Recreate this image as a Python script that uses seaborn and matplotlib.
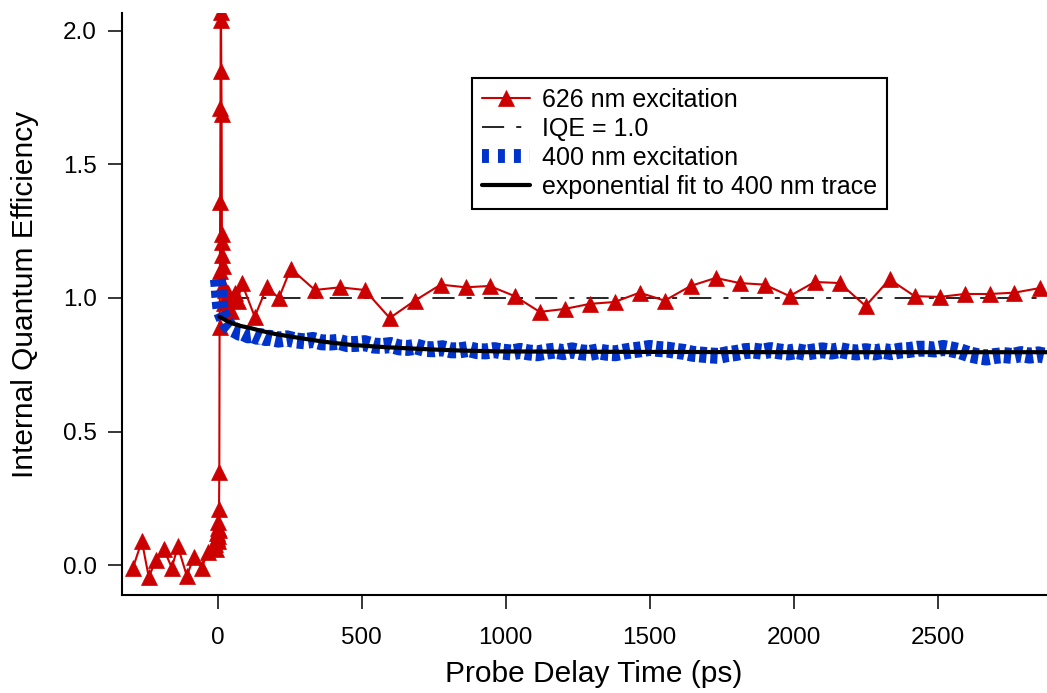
import matplotlib
matplotlib.use("Agg")
import matplotlib.pyplot as plt
from matplotlib.lines import Line2D
import seaborn as sns

# ---------------- data ----------------
red_t = [-295, -264, -240, -215, -188, -160, -139, -108, -83, -56, -35, -10,
         -5, -3, -2, -1, 0, 1, 2, 3, 4, 5, 6, 7, 8, 9, 10, 11, 12, 13, 14, 15,
         16, 17, 18, 20, 24, 30, 35, 45, 52, 59, 70, 83, 128, 170, 212, 253,
         337, 424, 510, 597, 684, 774, 861, 944, 1031, 1118, 1205, 1292, 1378,
         1465, 1552, 1642, 1729, 1812, 1899, 1986, 2073, 2160, 2250, 2333,
         2420, 2507, 2594, 2681, 2767, 2854]
red_iqe = [-0.01, 0.09, -0.045, 0.02, 0.06, -0.01, 0.07, -0.04, 0.03, -0.01, 0.05, 0.08,
           0.06, 0.10, 0.12, 0.09, 0.14, 0.11, 0.16, 0.13, 0.21, 0.35, 0.89, 1.10, 1.36, 1.71, 2.07, 2.04, 1.85, 1.69, 1.24, 1.21,
           1.16, 1.12, 1.05, 0.98, 1.03, 0.96, 1.02, 0.95, 1.00, 1.02, 0.99, 1.056, 0.93, 1.04, 1.00, 1.11,
           1.03, 1.04, 1.03, 0.925, 0.99, 1.05, 1.04, 1.045, 1.007, 0.948, 0.959, 0.978, 0.985,
           1.02, 0.99, 1.045, 1.075, 1.056, 1.05, 1.007, 1.06, 1.056, 0.97, 1.07,
           1.007, 1.004, 1.015, 1.015, 1.02, 1.037]

blue_t = [0, 2, 4, 6, 8, 10, 14, 18, 24, 30, 40, 50, 60, 75, 90, 105, 120, 135, 150, 165,
          180, 210, 240, 270, 300, 330, 360, 390, 420, 450, 480, 510, 540, 570, 600, 630,
          660, 690, 720, 750, 780, 810, 840, 870, 900, 930, 960, 990, 1020, 1050, 1080,
          1110, 1140, 1170, 1200, 1230, 1260, 1290, 1320, 1350, 1380, 1410, 1440, 1470,
          1500, 1530, 1560, 1590, 1620, 1650, 1680, 1710, 1740, 1770, 1800, 1830, 1860,
          1890, 1920, 1950, 1980, 2010, 2040, 2070, 2100, 2130, 2160, 2190, 2220, 2250,
          2280, 2310, 2340, 2370, 2400, 2430, 2460, 2490, 2520, 2550, 2580, 2610, 2640,
          2670, 2700, 2730, 2760, 2790, 2820, 2850, 2880]
blue_iqe = [1.07, 1.05, 1.02, 0.99, 0.97, 0.95, 0.94, 0.93, 0.915, 0.905, 0.893, 0.884, 0.879, 0.870, 0.868, 0.860, 0.862, 0.855, 0.857, 0.850,
            0.851, 0.844, 0.849, 0.841, 0.838, 0.843, 0.834, 0.833, 0.836, 0.827, 0.828, 0.831, 0.822, 0.820, 0.824, 0.815,
            0.813, 0.818, 0.809, 0.808, 0.812, 0.804, 0.804, 0.809, 0.801, 0.800, 0.805, 0.799, 0.796, 0.802, 0.796,
            0.793, 0.799, 0.803, 0.797, 0.804, 0.797, 0.794, 0.800, 0.795, 0.793, 0.799, 0.804, 0.808,
            0.813, 0.809, 0.807, 0.802, 0.798, 0.791, 0.788, 0.785, 0.783, 0.790, 0.794, 0.801, 0.803,
            0.799, 0.805, 0.800, 0.796, 0.801, 0.795, 0.800, 0.804, 0.799, 0.805, 0.799, 0.796, 0.801,
            0.796, 0.802, 0.797, 0.803, 0.805, 0.810, 0.810, 0.807, 0.813, 0.807, 0.800, 0.789, 0.782,
            0.777, 0.783, 0.786, 0.783, 0.790, 0.784, 0.789, 0.782]

fit_t = [5, 25, 50, 80, 111, 150, 200, 285, 370, 458, 550, 632, 750, 850, 979,
         1200, 1500, 2000, 2500, 2880]
fit_iqe = [0.930, 0.918, 0.905, 0.895, 0.888, 0.877, 0.865, 0.850, 0.836, 0.825,
           0.818, 0.813, 0.807, 0.803, 0.800, 0.799, 0.798, 0.797, 0.797, 0.797]

ref_t = [30, 2880]
ref_iqe = [1.0, 1.0]

x_ticks = [0, 500, 1000, 1500, 2000, 2500]
y_ticks = [0.0, 0.5, 1.0, 1.5, 2.0]
y_tick_labels = ["0.0", "0.5", "1.0", "1.5", "2.0"]

# ---------------- style ----------------
sns.set_style("ticks")
plt.rcParams["font.family"] = ["Liberation Sans", "DejaVu Sans"]
plt.rcParams.update({"text.color": "black", "axes.labelcolor": "black",
                     "xtick.color": "black", "ytick.color": "black",
                     "axes.edgecolor": "black"})

RED = "#cc0000"
BLUE = "#0033cc"
GREY = "#2a2a2a"
DASHDOT = (0, (11, 6, 2.5, 6))

fig = plt.figure(figsize=(10.47, 6.93), dpi=100)
W, H = 1047, 693
ax = fig.add_axes([122 / W, 1 - 595 / H, 1 - 122 / W, (595 - 13) / H])

sns.lineplot(x=ref_t, y=ref_iqe, ax=ax, color=GREY, lw=1.45,
             linestyle=DASHDOT, zorder=1)
sns.lineplot(x=red_t, y=red_iqe, ax=ax, color=RED, lw=1.5, marker="^",
             markersize=12, markeredgecolor=RED, markeredgewidth=0.5,
             sort=False, estimator=None, zorder=2)
sns.lineplot(x=blue_t, y=blue_iqe, ax=ax, color=BLUE, lw=11.5,
             linestyle=(0, (0.45, 0.24)), sort=False, estimator=None,
             zorder=3)
sns.lineplot(x=fit_t, y=fit_iqe, ax=ax, color="black", lw=3,
             sort=False, estimator=None, zorder=4)

ax.set_xlim(-333, 2880)
ax.set_ylim(-0.112, 2.067)
ax.set_xticks(x_ticks)
ax.set_yticks(y_ticks)
ax.set_yticklabels(y_tick_labels)
ax.minorticks_off()

for side in ["top", "right"]:
    ax.spines[side].set_visible(False)
for side in ["left", "bottom"]:
    ax.spines[side].set_linewidth(1.5)
    ax.spines[side].set_color("black")

ax.tick_params(axis="both", direction="out", length=10, width=1.1,
               colors="black", labelsize=17.5)
ax.tick_params(axis="x", pad=13)
ax.tick_params(axis="y", pad=8)
ax.set_xlabel("Probe Delay Time (ps)", fontsize=21.5, labelpad=8, x=0.51)
ax.set_ylabel("Internal Quantum Efficiency", fontsize=21.5, labelpad=17,
              y=0.517)

# legend entries (styled like the plotted series)
legend_handles = [
    Line2D([], [], color=RED, lw=1.5, marker="^", markersize=12,
           markeredgecolor=RED, markeredgewidth=0.5),
    Line2D([], [], color=GREY, lw=1.45, linestyle=DASHDOT),
    Line2D([], [], color=BLUE, lw=10, linestyle=(0, (0.5, 0.65))),
    Line2D([], [], color="black", lw=3),
]
legend_labels = ["626 nm excitation", "IQE = 1.0", "400 nm excitation",
                 "exponential fit to 400 nm trace"]
leg = ax.legend(legend_handles, legend_labels, loc="upper left",
                bbox_to_anchor=(350 / 925, (595 - 78) / 582),
                borderaxespad=0, fontsize=18, frameon=True, fancybox=False,
                edgecolor="black", framealpha=1, handlelength=1.9,
                handletextpad=0.5, labelspacing=0.2, borderpad=0.4,
                numpoints=1)
leg.get_frame().set_linewidth(1.5)

fig.savefig("out.png", dpi=100)
